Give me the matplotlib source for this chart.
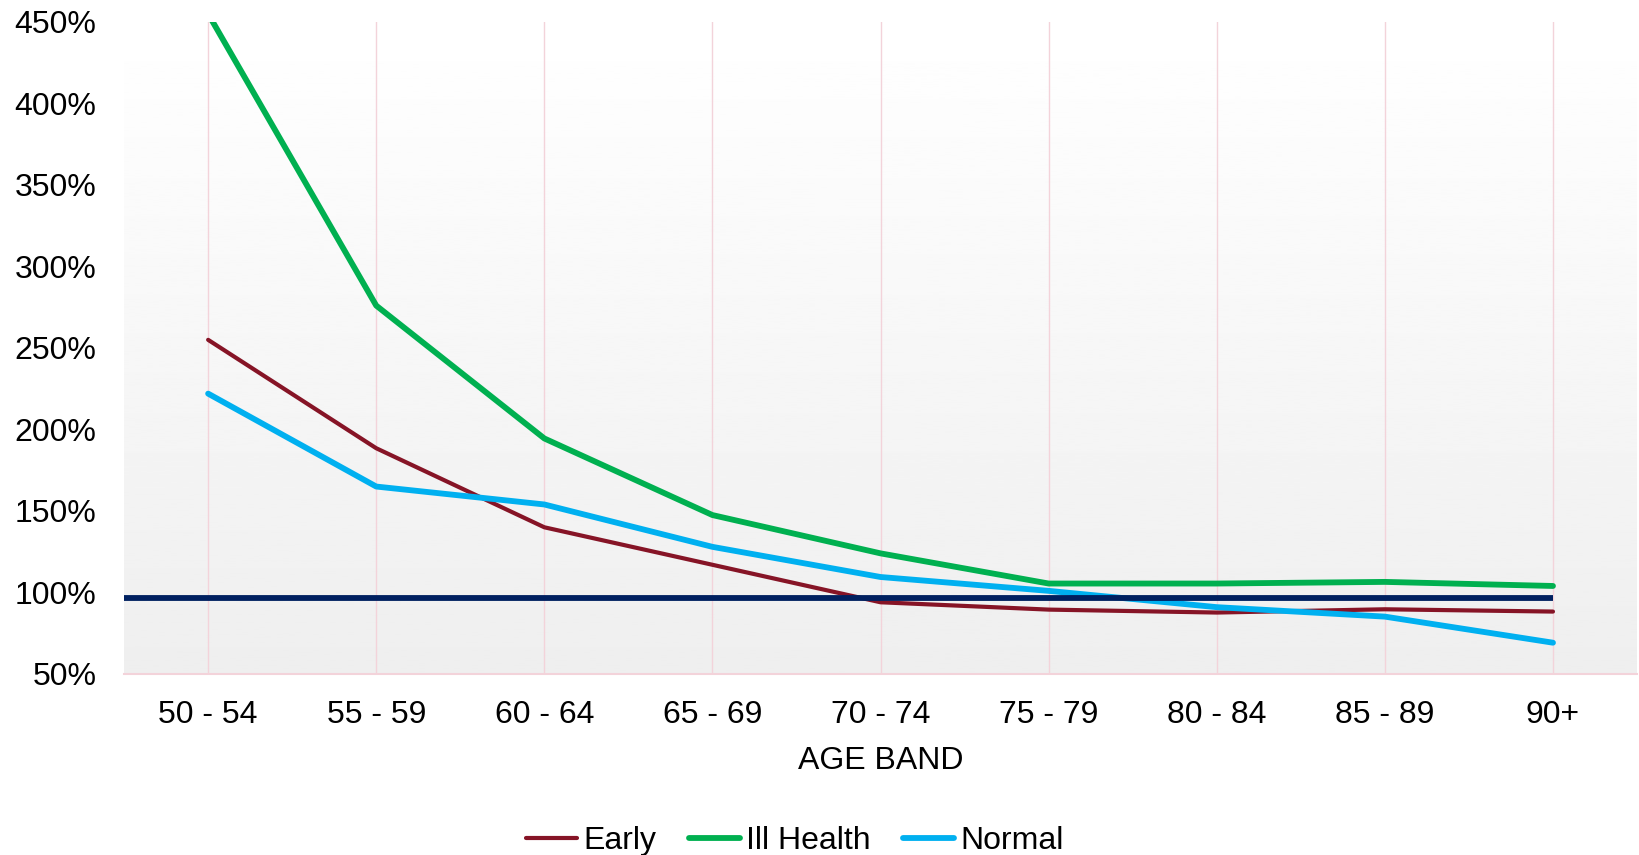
from matplotlib import pyplot as plt
import numpy as np

plt.rcParams["font.family"] = ["Liberation Sans", "DejaVu Sans"]

age_bands = ["50 - 54", "55 - 59", "60 - 64", "65 - 69", "70 - 74",
             "75 - 79", "80 - 84", "85 - 89", "90+"]
early = [255, 188.5, 140, 117, 94, 89.5, 87.7, 89.7, 88.3]
ill_health = [455, 276, 194.5, 147.5, 124, 105.5, 105.5, 106.5, 104]
normal = [222, 165, 154, 128, 109.5, 101, 91, 85.2, 69.2]
baseline = 96.8

y_ticks = [50, 100, 150, 200, 250, 300, 350, 400, 450]
y_tick_labels = ["50%", "100%", "150%", "200%", "250%", "300%", "350%", "400%", "450%"]

fig = plt.figure(figsize=(16.39, 8.55), dpi=100)
ax = fig.add_axes([0.0757, 0.2117, 0.9231, 0.7626])

x = np.arange(len(age_bands))
ax.set_xlim(-0.5, len(age_bands) - 0.5)
ax.set_ylim(y_ticks[0], y_ticks[-1])

# soft grey gradient behind the plot
grad = np.linspace(1.0, 0.935, 256).reshape(-1, 1)
ax.imshow(grad, cmap="gray", vmin=0, vmax=1, aspect="auto",
          extent=[-0.5, len(age_bands) - 0.5, y_ticks[0], y_ticks[-1]],
          origin="upper", zorder=0)

for xi in x:
    ax.axvline(xi, color="#f3d3da", linewidth=1.0, zorder=1)

ax.plot(x, early, color="#861426", linewidth=3.0, label="Early",
        solid_capstyle="round", zorder=3)
ax.plot(x, ill_health, color="#00b050", linewidth=4.2, label="Ill Health",
        solid_capstyle="round", zorder=3)
ax.plot(x, normal, color="#00b0f0", linewidth=4.2, label="Normal",
        solid_capstyle="round", zorder=3)
ax.hlines(baseline, -0.5, x[-1], color="#002060", linewidth=4.2, zorder=4)

fs = 23
ax.set_xticks(x)
ax.set_xticklabels(age_bands, fontsize=fs)
ax.set_yticks(y_ticks)
ax.set_yticklabels(y_tick_labels, fontsize=fs)
ax.tick_params(axis="both", length=0)
ax.tick_params(axis="x", pad=19)
ax.tick_params(axis="y", pad=20)
ax.set_xlabel("AGE BAND", fontsize=fs, labelpad=11)

for side in ["left", "right", "top"]:
    ax.spines[side].set_visible(False)
ax.spines["bottom"].set_color("#f3d3da")
ax.spines["bottom"].set_linewidth(1.5)

fig.legend(loc="center", bbox_to_anchor=(0.485, 0.016), ncol=3, frameon=False,
           fontsize=fs, handlelength=1.6, handletextpad=0.2, columnspacing=1.0)

plt.savefig("out.png", dpi=100)
